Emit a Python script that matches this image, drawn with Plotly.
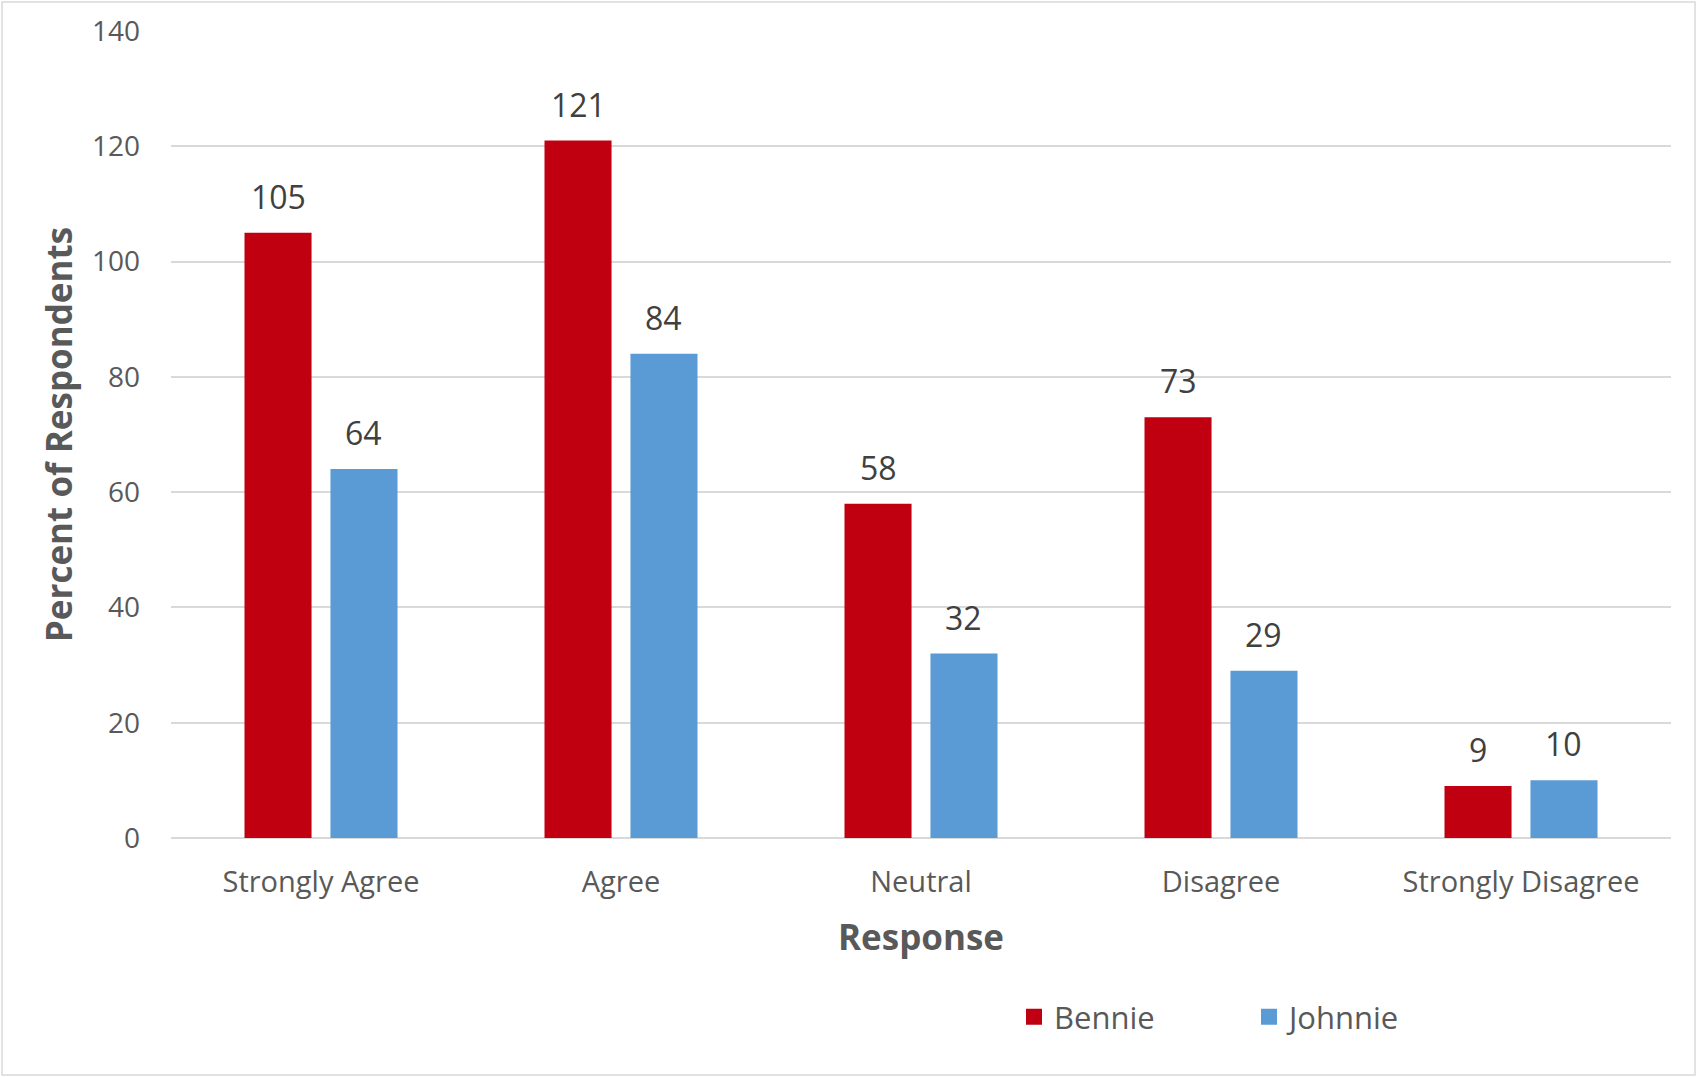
import plotly.graph_objects as go

# Survey responses per series
categories = ["Strongly Agree", "Agree", "Neutral", "Disagree", "Strongly Disagree"]
bennie = [105, 121, 58, 73, 9]
johnnie = [64, 84, 32, 29, 10]
series_names = ["Bennie", "Johnnie"]
series_colors = ["#C00010", "#5B9BD5"]
y_ticks = [0, 20, 40, 60, 80, 100, 120, 140]

W, H = 1697, 1077
M = dict(l=171, r=26, t=31, b=239)
BARGAP = 0.427
BARGROUPGAP = 0.22
FONT = "Open Sans"
TEXT_GREY = "#595959"
LABEL_GREY = "#404040"
GRID = "#D9D9D9"

fig = go.Figure()

for name, vals, color in zip(series_names, [bennie, johnnie], series_colors):
    fig.add_trace(go.Bar(
        name=name, x=categories, y=vals,
        marker=dict(color=color, line=dict(width=0)),
        showlegend=False,
    ))
    # legend swatch entries (larger squares than the default bar icon)
    fig.add_trace(go.Scatter(
        name=name, x=[None], y=[None], mode="markers",
        marker=dict(symbol="square", size=16, color=color),
        showlegend=True,
    ))

# value labels above each bar, centred on its slot within the group
slot = (1 - BARGAP) / 2
for k, vals in enumerate([bennie, johnnie]):
    offset = (k - 0.5) * slot
    for i, v in enumerate(vals):
        fig.add_annotation(
            x=i + offset, y=v, xref="x", yref="y",
            text=str(v), showarrow=False, yanchor="bottom", yshift=13,
            font=dict(family=FONT, size=32, color=LABEL_GREY),
        )

pw = W - M["l"] - M["r"]
ph = H - M["t"] - M["b"]
# thin frame around the chart area
fig.add_shape(
    type="rect", xref="paper", yref="paper",
    x0=(-M["l"] + 2) / pw, x1=1 + (M["r"] - 2) / pw,
    y0=-(M["b"] - 2) / ph, y1=1 + (M["t"] - 2) / ph,
    line=dict(color="#D9D9D9", width=1.5), layer="below",
)

fig.update_layout(
    width=W, height=H,
    margin=M,
    paper_bgcolor="white", plot_bgcolor="white",
    barmode="group", bargap=BARGAP, bargroupgap=BARGROUPGAP,
    font=dict(family=FONT, color=TEXT_GREY),
    legend=dict(
        orientation="h", x=0.562, xanchor="left", y=-0.222, yanchor="middle",
        font=dict(family=FONT, size=31, color=TEXT_GREY),
        itemsizing="trace", entrywidth=190, entrywidthmode="pixels",
    ),
    xaxis=dict(
        showgrid=False, showline=False, zeroline=False,
        tickfont=dict(family=FONT, size=29, color=TEXT_GREY),
        ticklabelstandoff=24,
        title=dict(text="<b>Response</b>", standoff=26,
                   font=dict(family=FONT, size=35, color=TEXT_GREY)),
    ),
    yaxis=dict(
        range=[0, 140], tickvals=y_ticks,
        showgrid=True, gridcolor=GRID, gridwidth=1.5,
        zeroline=True, zerolinecolor=GRID, zerolinewidth=1.5,
        showline=False,
        tickfont=dict(family=FONT, size=28, color=TEXT_GREY),
        ticklabelstandoff=30,
        title=dict(text="<b>Percent of Respondents</b>", standoff=8,
                   font=dict(family=FONT, size=35, color=TEXT_GREY)),
    ),
)

fig.write_html("out.html")
